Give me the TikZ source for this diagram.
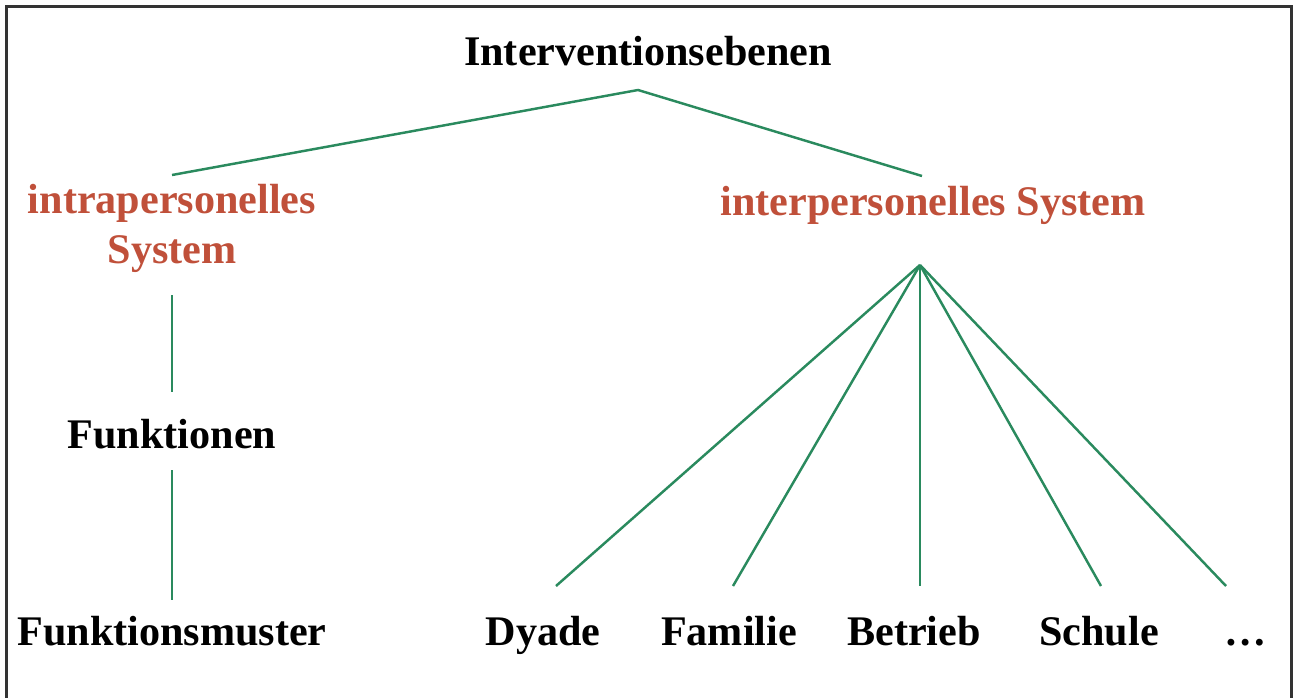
\documentclass[tikz,border=0pt]{standalone}
\usepackage{fontspec}
\setmainfont{Liberation Serif}
\definecolor{astgruen}{HTML}{2A8A5E}
\definecolor{ebenenrot}{HTML}{C0503A}
\tikzset{
  ebene/.style={font=\fontsize{24}{28.4}\selectfont\bfseries, inner sep=0pt, anchor=base, align=center},
  system/.style={ebene, text=ebenenrot},
  ast/.style={draw=astgruen, line width=1.4pt}
}
\begin{document}
\begin{tikzpicture}[x=0.02cm, y=-0.02cm]
	\useasboundingbox (0,0) rectangle (1298,697);
	\draw [line width=1.5pt, black!80] (6.5,700) -- (6.5,6.5) -- (1291.5,6.5) -- (1291.5,700);
	% oberste Ebene
	\node [ebene] (top) at (648,65) {Interventionsebenen};
	\node [system] (intra) at (172,263) {intrapersonelles\\System};
	\node [system] (inter) at (933,215) {interpersonelles System};
	\coordinate (spitze) at (638,90);
	\coordinate (intraoben) at (172,175);
	\coordinate (interoben) at (922,176);
	\draw [ast] (intraoben) -- (spitze) -- (interoben);
	% linker Zweig
	\node [ebene] (funk) at (172,448) {Funktionen};
	\node [ebene] (muster) at (172,645) {Funktionsmuster};
	\coordinate (intraunten) at (172,295);
	\coordinate (funkoben) at (172,392);
	\coordinate (funkunten) at (172,470);
	\coordinate (musteroben) at (172,600);
	\draw [ast] (intraunten) -- (funkoben);
	\draw [ast] (funkunten) -- (musteroben);
	% rechter Zweig
	\coordinate (fächer) at (920,265);
	\node [ebene] (dyade) at (543,645) {Dyade};
	\node [ebene] (familie) at (729,645) {Familie};
	\node [ebene] (betrieb) at (914,645) {Betrieb};
	\node [ebene] (schule) at (1099,645) {Schule};
	\node [ebene] (weitere) at (1246,645) {\dots};
	\foreach \ziel/\x in {dyade/556, familie/733, betrieb/920, schule/1101, weitere/1226} {
		\coordinate (\ziel oben) at (\x,586);
		\draw [ast] (fächer) -- (\ziel oben);
	}
\end{tikzpicture}
\end{document}
